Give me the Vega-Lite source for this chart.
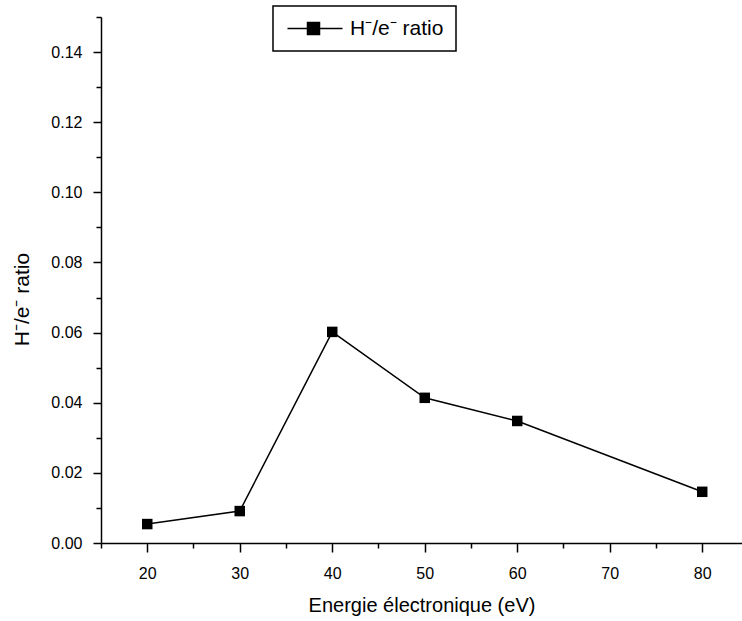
{
  "$schema": "https://vega.github.io/schema/vega-lite/v6.json",
  "width": 641,
  "height": 526,
  "autosize": "none",
  "padding": {"left": 101, "top": 17, "right": 0, "bottom": 78},
  "background": "white",
  "config": {"view": {"stroke": null}, "font": "Liberation Sans"},
  "data": {"values": [
    {"energy": 20, "ratio": 0.0054},
    {"energy": 30, "ratio": 0.0091},
    {"energy": 40, "ratio": 0.0602},
    {"energy": 50, "ratio": 0.0414},
    {"energy": 60, "ratio": 0.0348},
    {"energy": 80, "ratio": 0.0146}
  ]},
  "encoding": {
    "x": {
      "field": "energy", "type": "quantitative",
      "scale": {"domain": [15, 84.3], "nice": false, "zero": false},
      "axis": {
        "title": "Energie électronique (eV)",
        "values": [15, 20, 25, 30, 35, 40, 45, 50, 55, 60, 65, 70, 75, 80],
        "labelExpr": "datum.value % 10 == 0 ? datum.label : ''",
        "tickSize": {"condition": {"test": "datum.value % 10 != 0", "value": 5}, "value": 9},
        "grid": false,
        "domainColor": "black", "domainWidth": 1.5,
        "tickColor": "black", "tickWidth": 1.5,
        "labelColor": "black", "labelFontSize": 16, "labelPadding": 13,
        "labelFlush": false,
        "titleColor": "black", "titleFontSize": 20, "titleFontWeight": "normal", "titlePadding": 14
      }
    },
    "y": {
      "field": "ratio", "type": "quantitative",
      "scale": {"domain": [0, 0.15], "nice": false},
      "axis": {
        "title": "H⁻/e⁻ ratio",
        "values": [0, 0.01, 0.02, 0.03, 0.04, 0.05, 0.06, 0.07, 0.08, 0.09, 0.10, 0.11, 0.12, 0.13, 0.14, 0.15],
        "labelExpr": "round(datum.value * 100) % 2 == 0 ? format(datum.value, '.2f') : ''",
        "tickSize": {"condition": {"test": "round(datum.value * 100) % 2 == 1", "value": 5}, "value": 8},
        "grid": false,
        "domainColor": "black", "domainWidth": 1.5,
        "tickColor": "black", "tickWidth": 1.5,
        "labelColor": "black", "labelFontSize": 16, "labelPadding": 11,
        "labelFlush": false,
        "titleColor": "black", "titleFontSize": 21, "titleFontWeight": "normal",
        "titleX": -79, "titleY": 282, "titleBaseline": "middle", "titleAlign": "center", "titleAngle": -90
      }
    },
    "color": {
      "datum": "H⁻/e⁻ ratio", "type": "nominal",
      "scale": {"range": ["black"]},
      "legend": {
        "title": null,
        "orient": "none",
        "legendX": 172,
        "legendY": -11,
        "strokeColor": "black",
        "fillColor": "white",
        "padding": 12,
        "symbolType": "M-1,0H5.875M1.5,-0.75H3V0.75H1.5Z",
        "symbolSize": 256,
        "symbolStrokeWidth": 1.5,
        "symbolFillColor": "black",
        "symbolStrokeColor": "black",
        "symbolOpacity": 1,
        "labelFontSize": 21,
        "labelColor": "black",
        "labelOffset": 44,
        "encode": {"legend": {"update": {"strokeWidth": {"value": 1.5}}}}
      }
    }
  },
  "layer": [
    {"mark": {"type": "line", "strokeWidth": 1.5}},
    {"mark": {"type": "point", "shape": "square", "filled": true, "size": 110, "opacity": 1}}
  ]
}
